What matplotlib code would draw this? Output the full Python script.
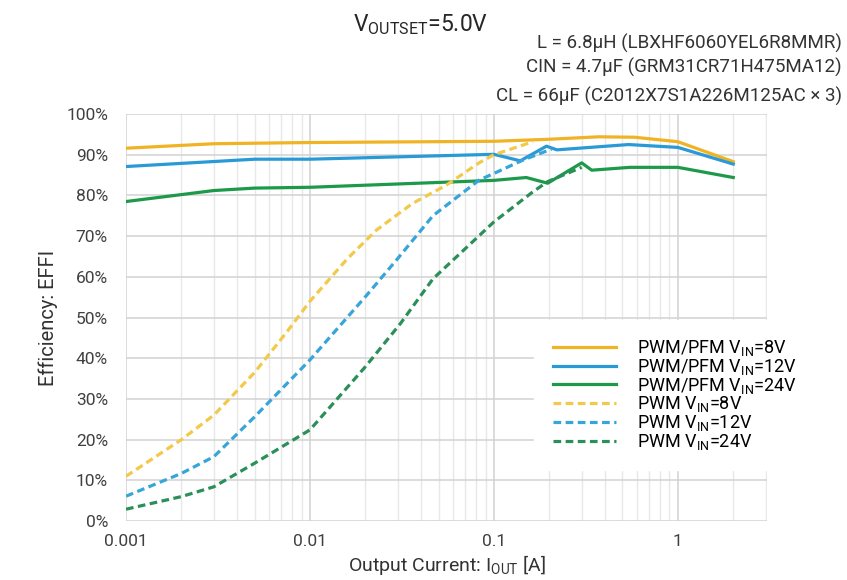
import numpy as np
import matplotlib
matplotlib.use("Agg")
import matplotlib.pyplot as plt
from matplotlib.ticker import FixedLocator, LogLocator, NullFormatter

plt.rcParams['font.family'] = ['Roboto', 'DejaVu Sans']
plt.rcParams['mathtext.fontset'] = 'custom'
plt.rcParams['mathtext.rm'] = 'Roboto'

# PWM/PFM curves (solid)
i_8v = [0.001, 0.003, 0.01, 0.1, 0.2, 0.37, 0.58, 1.0, 2.0]
eff_8v = [91.6, 92.7, 93.0, 93.3, 93.8, 94.4, 94.3, 93.2, 88.3]

i_12v = [0.001, 0.005, 0.01, 0.1, 0.139, 0.193, 0.22, 0.54, 1.0, 2.0]
eff_12v = [87.1, 88.9, 88.9, 90.1, 88.5, 92.1, 91.2, 92.5, 91.8, 87.7]

i_24v = [0.001, 0.003, 0.005, 0.01, 0.1, 0.15, 0.196, 0.3, 0.34, 0.55, 1.0, 2.0]
eff_24v = [78.5, 81.2, 81.8, 82.0, 83.7, 84.4, 83.0, 88.0, 86.2, 86.9, 86.9, 84.4]

# PWM only curves (dashed)
i_pwm_8v = [0.001, 0.002, 0.003, 0.005, 0.0075, 0.01, 0.016, 0.023, 0.036, 0.055, 0.083, 0.1, 0.163]
eff_pwm_8v = [11.0, 20.0, 26.0, 36.5, 46.5, 54.0, 64.5, 71.5, 78.0, 82.5, 88.0, 90.0, 93.2]

i_pwm_12v = [0.001, 0.002, 0.003, 0.005, 0.01, 0.02, 0.03, 0.0466, 0.0833, 0.1, 0.144, 0.206]
eff_pwm_12v = [6.1, 11.7, 15.8, 25.6, 39.6, 55.1, 64.5, 75.0, 83.8, 85.4, 88.7, 91.4]

i_pwm_24v = [0.001, 0.002, 0.003, 0.005, 0.01, 0.02, 0.031, 0.0466, 0.1, 0.163, 0.196, 0.3]
eff_pwm_24v = [2.9, 6.0, 8.4, 14.2, 22.4, 37.9, 48.5, 59.5, 73.5, 80.9, 83.4, 86.9]

yellow = "#F0B323"
blue = "#2A9AD6"
green = "#1C9A4A"
yellow_d = "#F2C94A"
blue_d = "#38A5D8"
green_d = "#2A8F58"

fig = plt.figure(figsize=(8.47, 5.8), dpi=100)
ax = fig.add_axes([0.1488, 0.1017, 0.7567, 0.7017])

lw = 2.3
dash = (0, (2.4, 1.4))
ax.plot(i_8v, eff_8v, color=yellow, lw=lw, label="PWM/PFM V$_{\\mathregular{IN}}$=8V")
ax.plot(i_12v, eff_12v, color=blue, lw=lw, label="PWM/PFM V$_{\\mathregular{IN}}$=12V")
ax.plot(i_24v, eff_24v, color=green, lw=lw, label="PWM/PFM V$_{\\mathregular{IN}}$=24V")
ax.plot(i_pwm_8v, eff_pwm_8v, color=yellow_d, lw=lw, ls=dash, label="PWM V$_{\\mathregular{IN}}$=8V")
ax.plot(i_pwm_12v, eff_pwm_12v, color=blue_d, lw=lw, ls=dash, label="PWM V$_{\\mathregular{IN}}$=12V")
ax.plot(i_pwm_24v, eff_pwm_24v, color=green_d, lw=lw, ls=dash, label="PWM V$_{\\mathregular{IN}}$=24V")

ax.set_xscale("log")
ax.set_xlim(0.001, 3.05)
ax.set_ylim(0, 100)
ax.set_xticks([0.001, 0.01, 0.1, 1])
ax.set_xticklabels(["0.001", "0.01", "0.1", "1"])
ax.xaxis.set_minor_locator(LogLocator(base=10, subs=np.arange(2, 10)))
ax.xaxis.set_minor_formatter(NullFormatter())
ax.yaxis.set_major_locator(FixedLocator(np.arange(0, 101, 10)))
ax.set_yticklabels([f"{v}%" for v in range(0, 101, 10)])

ax.grid(True, which="major", color="#d2d2d2", lw=1.1)
ax.grid(True, which="minor", axis="x", color="#e8e8e8", lw=1.0)
ax.set_axisbelow(True)
for s in ax.spines.values():
    s.set_visible(False)
ax.tick_params(which="both", length=0, labelsize=12.5, colors="#404040")
ax.tick_params(axis="y", pad=13)
ax.tick_params(axis="x", pad=9)

ax.set_ylabel("Efficiency: EFFI", fontsize=14.5, color="#333333")
ax.yaxis.label.set_va("center")
ax.yaxis.set_label_coords(-0.122, 0.5)
ax.set_xlabel("Output Current: I$_{\\mathregular{OUT}}$ [A]", fontsize=14, color="#333333")
ax.xaxis.label.set_va("center")
ax.xaxis.set_label_coords(0.5, -0.108)

fig.text(0.496, 0.957, "V$_{\\mathregular{OUTSET}}$=5.0V", fontsize=16.5, ha="center", va="center", color="#262626")
fig.text(0.994, 0.926, "L = 6.8μH (LBXHF6060YEL6R8MMR)", fontsize=13.5, ha="right", va="center", color="#333333")
fig.text(0.994, 0.884, "CIN = 4.7μF (GRM31CR71H475MA12)", fontsize=13.5, ha="right", va="center", color="#333333")
fig.text(0.994, 0.833, "CL = 66μF (C2012X7S1A226M125AC × 3)", fontsize=13.5, ha="right", va="center", color="#333333")

leg = ax.legend(loc="upper left", bbox_to_anchor=(0.631, 0.448), bbox_transform=fig.transFigure,
                fontsize=13, frameon=True, handlelength=3.5, handletextpad=1.2,
                labelspacing=-0.07, borderpad=1.0, borderaxespad=0)
leg.get_frame().set_edgecolor("white")
leg.get_frame().set_facecolor("white")
leg.get_frame().set_alpha(1.0)
leg.get_frame().set_boxstyle("square", pad=0)

fig.savefig("out.png", dpi=100)
